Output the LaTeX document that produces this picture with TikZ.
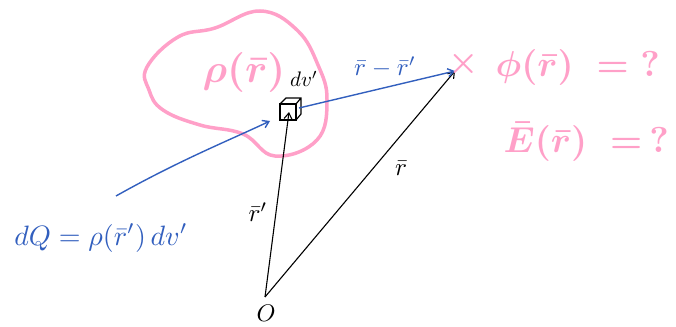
\documentclass[tikz,border=0pt]{standalone}
\usepackage{amsmath}
\usetikzlibrary{arrows.meta}
\definecolor{pinkink}{RGB}{255,160,200}
\definecolor{blueink}{RGB}{50,95,190}
\begin{document}
\begin{tikzpicture}[x=1pt,y=-1pt,
  pinktext/.style={text=pinkink,inner sep=0pt,font=\boldmath,transform shape},
  bluetext/.style={text=blueink,inner sep=0pt,transform shape},
  blacktext/.style={text=black,inner sep=0pt,transform shape},
  vecline/.style={-{Straight Barb[length=6pt,width=8pt]},line width=1.1pt},
  bluevec/.style={vecline,draw=blueink,line width=1.4pt}]
\useasboundingbox (0,0) rectangle (676,326);
% blob
\draw[pinkink,line width=3.5pt] plot[smooth cycle,tension=0.7] coordinates{
 (147,67) (178,37) (215,28) (260,11) (297,30) (318,65) (327,100) (317,140)
 (275,156) (243,134) (200,125) (163,110) (149,90)};
% points
\coordinate (O) at (265,297);
\coordinate (C) at (289,112);
\coordinate (X) at (455,71);
\coordinate (S) at (116,196);
\coordinate (Cin) at (270,121);
\coordinate (Cout) at (299,108);
% cube
\draw[line width=1.2pt] (280,104) rectangle (296,120);
\draw[line width=1.2pt] (280,104) -- (286,98) -- (301,98) -- (301,114) -- (296,120) (296,104) -- (301,98);
% vectors
\draw[vecline] (O) -- (C);
\draw[vecline] (O) -- (X);
\draw[bluevec] (S) .. controls (180,160) and (230,140) .. (Cin);
\draw[bluevec] (Cout) -- (X);
% labels
\node[pinktext,scale=3.4] (X1) at (464,64) {$\times$};
\node[pinktext,scale=4] (rho) at (244,73) {$\rho(\bar r)$};
\node[pinktext,scale=3.6,anchor=west] (phi) at (495,68) {$\phi(\bar r)\;=\;?$};
\node[pinktext,scale=3.6,anchor=west] (E) at (503,142) {$\bar E(\bar r)\;=\,?$};
\node[blacktext,scale=2.1] (dv) at (304,79) {$dv'$};
\node[bluetext,scale=2.5] (rr) at (385,67) {$\bar r - \bar r'$};
\node[blacktext,scale=2.5] (rp) at (258,212) {$\bar r'$};
\node[blacktext,scale=2.5] (r) at (401,168) {$\bar r$};
\node[blacktext,scale=2.4] (Olab) at (266,313) {$O$};
\node[bluetext,scale=2.8] (dQ) at (101,238) {$dQ = \rho(\bar r')\,dv'$};
\end{tikzpicture}
\end{document}
